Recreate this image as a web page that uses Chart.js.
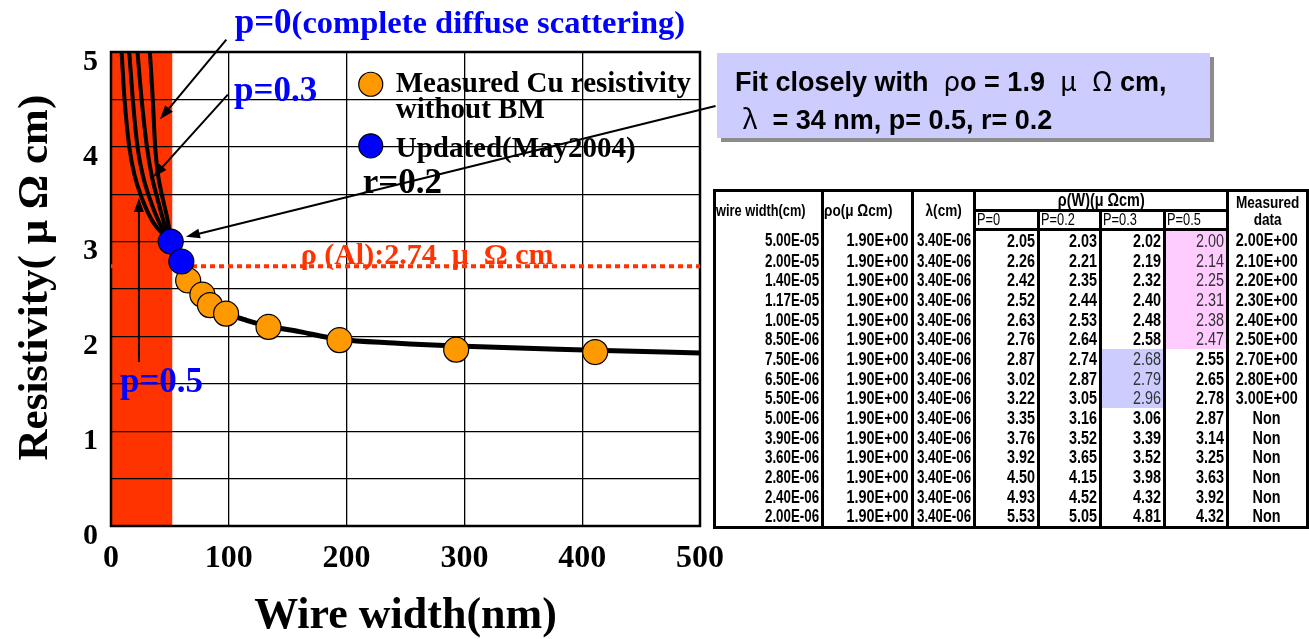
<!DOCTYPE html>
<html>
<head>
<meta charset="utf-8">
<script src="https://cdn.jsdelivr.net/npm/chart.js@4.4.0/dist/chart.umd.min.js"></script>
<style>
  body { margin: 0; background: #fff; }
  #stage { position: relative; width: 1309px; height: 639px; overflow: hidden; }
  #resist { position: absolute; left: 0; top: 0; }
  .fitbox {
    position: absolute; left: 717px; top: 53px; width: 475px; height: 76px;
    padding: 9px 0 0 18px; background: #ccccff; box-shadow: 4px 4px 0 #8c8c8c;
    font: bold 27px "Liberation Sans", Arial, sans-serif; line-height: 35px;
    white-space: pre; color: #000;
  }
  .fitbox .g { font-family: "Noto Sans CJK JP", "Liberation Sans", sans-serif; font-weight: normal; }
  table.calc {
    position: absolute; left: 713px; top: 189px; width: 593px;
    border-collapse: collapse; table-layout: fixed;
    font-family: "Liberation Sans", Arial, sans-serif;
    border: 3px solid #000;
  }
  table.calc td, table.calc th {
    border-right: 3px solid #000; padding: 0 2px 0 0; white-space: nowrap; overflow: hidden;
  }
  /* condensed look: squeeze each label sideways, anchored to its alignment edge */
  table.calc span { display: inline-block; transform: scaleX(0.8); transform-origin: 100% 50%; margin-left: -30px; }
  table.calc .l span { transform-origin: 0 50%; margin-left: 0; margin-right: -30px; }
  table.calc .c span { transform-origin: 50% 50%; margin: 0 -15px; }
  table.calc td.n span { transform: scaleX(0.74); }
  table.calc th { font-weight: bold; font-size: 16px; line-height: 15px; padding: 0; }
  table.calc tr.h1 { height: 20px; }
  table.calc tr.h2 { height: 16px; }
  table.calc tr.h2 th { border-bottom: 3px solid #000; }
  table.calc .top { border-bottom: 3px solid #000; font-size: 18px; }
  table.calc th.sub { font-weight: normal; font-size: 16px; line-height: 16px; height: 16px; text-align: left;
    padding-left: 1px; overflow: visible; vertical-align: middle; }
  table.calc td { font-weight: bold; font-size: 18px; height: 19.7px; line-height: 18px; text-align: right; }
  table.calc td.c { text-align: center; }
  table.calc td.pink { background: #ffccff; color: #333; font-weight: normal; }
  table.calc td.lav { background: #ccccff; color: #333; font-weight: normal; }
</style>
</head>
<body>
<div id="stage">
  <canvas id="resist" width="1309" height="639"></canvas>
  <div class="fitbox">Fit closely with  <span class="g">ρ</span>o = 1.9  <span class="g">μ</span>  <span class="g">Ω</span> cm,
 <span class="g">λ</span>  = 34 nm, p= 0.5, r= 0.2</div>
  <table class="calc" id="calc"></table>
</div>
<script>
// measured Cu lines (nm, μΩcm)
const measuredCu = [[65.5, 2.59], [77.6, 2.44], [84, 2.33], [97.7, 2.24], [133.7, 2.10], [194, 1.96], [293, 1.86], [411, 1.835]]
const updated2004 = [[50.7, 3.0], [59.7, 2.79]]

// model curves near the narrow end, one per specularity p
const curveP0 = [[33, 5.0], [35.5, 4.5], [37.5, 4.0], [40, 3.7], [44, 3.45], [48.5, 3.2], [51, 3.0]]
const curveP02 = [[22.5, 5.0], [26, 4.5], [30.5, 4.0], [34.5, 3.7], [39.5, 3.45], [45, 3.2], [51, 3.0]]
const curveP03 = [[15.5, 5.0], [18.5, 4.5], [22.5, 4.0], [27, 3.7], [33, 3.45], [41, 3.2], [51, 3.0]]
const curveP05 = [[9, 5.0], [11.5, 4.5], [15.5, 4.0], [20, 3.7], [26.5, 3.45], [36, 3.2], [51, 3.0]]
// shared fit from the merge point out to 500 nm
const fitTail = [[51, 3.0], [60, 2.79], [66, 2.62], [75, 2.48], [85, 2.36], [98, 2.25], [115, 2.17],
  [134, 2.11], [160, 2.05], [194, 1.97], [240, 1.93], [300, 1.895], [410, 1.855], [500, 1.825]]

const alResistivity = 2.74
const bandRange = [0, 52]
const xTicks = [0, 100, 200, 300, 400, 500]
const yTicks = [0, 1, 2, 3, 4, 5]

// table columns
const wireWidthCm = ['5.00E-05', '2.00E-05', '1.40E-05', '1.17E-05', '1.00E-05', '8.50E-06', '7.50E-06', '6.50E-06',
  '5.50E-06', '5.00E-06', '3.90E-06', '3.60E-06', '2.80E-06', '2.40E-06', '2.00E-06']
const rho0 = '1.90E+00'
const lambdaCm = '3.40E-06'
const rhoP0 = [2.05, 2.26, 2.42, 2.52, 2.63, 2.76, 2.87, 3.02, 3.22, 3.35, 3.76, 3.92, 4.50, 4.93, 5.53]
const rhoP02 = [2.03, 2.21, 2.35, 2.44, 2.53, 2.64, 2.74, 2.87, 3.05, 3.16, 3.52, 3.65, 4.15, 4.52, 5.05]
const rhoP03 = [2.02, 2.19, 2.32, 2.40, 2.48, 2.58, 2.68, 2.79, 2.96, 3.06, 3.39, 3.52, 3.98, 4.32, 4.81]
const rhoP05 = [2.00, 2.14, 2.25, 2.31, 2.38, 2.47, 2.55, 2.65, 2.78, 2.87, 3.14, 3.25, 3.63, 3.92, 4.32]
const measuredData = ['2.00E+00', '2.10E+00', '2.20E+00', '2.30E+00', '2.40E+00', '2.50E+00', '2.70E+00',
  '2.80E+00', '3.00E+00', 'Non', 'Non', 'Non', 'Non', 'Non', 'Non']


function cell(tag, text, cls, extra) {
  return '<' + tag + (cls ? ' class="' + cls + '"' : '') + (extra || '') + '><span>' + text + '</span></' + tag + '>'
}

function buildTable() {
  const colW = [108, 90, 62, 64, 62, 64, 63, 80]
  let html = '<colgroup>' + colW.map(w => '<col style="width:' + w + 'px">').join('') + '</colgroup>'
  html += '<thead><tr class="h1">'
    + cell('th', 'wire width(cm)', 'l', ' rowspan="2" style="text-align:left"')
    + cell('th', 'ρo(μ Ωcm)', 'l', ' rowspan="2" style="text-align:left;font-size:17px"')
    + cell('th', 'λ(cm)', 'c', ' rowspan="2" style="font-size:17px"')
    + cell('th', 'ρ(W)(μ Ωcm)', 'top c', ' colspan="4"')
    + cell('th', 'Measured<br>data', 'c', ' rowspan="2" style="font-size:17px;line-height:17px"')
    + '</tr><tr class="h2">'
    + cell('th', 'P=0', 'sub l') + cell('th', 'P=0.2', 'sub l') + cell('th', 'P=0.3', 'sub l') + cell('th', 'P=0.5', 'sub l')
    + '</tr></thead><tbody>'
  for (let i = 0; i < wireWidthCm.length; i++) {
    html += '<tr>' + cell('td', wireWidthCm[i], 'n') + cell('td', rho0) + cell('td', lambdaCm, 'n')
      + cell('td', rhoP0[i].toFixed(2)) + cell('td', rhoP02[i].toFixed(2))
      + cell('td', rhoP03[i].toFixed(2), i >= 6 && i <= 8 ? 'lav' : '')
      + cell('td', rhoP05[i].toFixed(2), i <= 5 ? 'pink' : '')
      + cell('td', measuredData[i], 'c') + '</tr>'
  }
  document.getElementById('calc').innerHTML = html + '</tbody>'
}
buildTable()

const pts = list => list.map(p => ({x: p[0], y: p[1]}))
const font = s => 'bold ' + s + 'px "Liberation Serif", "Times New Roman", serif'

// annotation placements, in axis units
const notes = {
  p0: {x: 105, y: 5.20},
  p03: {x: 104.4, y: 4.48},
  p05: {x: 7.6, y: 1.41},
  r02: {x: 213.7, y: 3.51},
  al: {x: 161, y: 2.76},
  yTitle: {x: -64, y: 2.62},
  legendDot: 220.5, legendText: 241.7,
  legendRows: [4.66, 4.01], legendBase: [4.58, 4.30, 3.89],
  arrows: [
    [97.9, 5.13, 41.6, 4.29],
    [99.2, 4.55, 35.9, 3.68],
    [23.7, 1.73, 23.7, 3.46],
    [513.2, 4.43, 63.6, 3.05]
  ]
}

function arrow(ctx, x1, y1, x2, y2) {
  const a = Math.atan2(y2 - y1, x2 - x1)
  const len = 14, half = 5
  ctx.beginPath()
  ctx.moveTo(x1, y1)
  ctx.lineTo(x2 - len * 0.8 * Math.cos(a), y2 - len * 0.8 * Math.sin(a))
  ctx.stroke()
  ctx.beginPath()
  ctx.moveTo(x2, y2)
  ctx.lineTo(x2 - len * Math.cos(a) + half * Math.sin(a), y2 - len * Math.sin(a) - half * Math.cos(a))
  ctx.lineTo(x2 - len * Math.cos(a) - half * Math.sin(a), y2 - len * Math.sin(a) + half * Math.cos(a))
  ctx.closePath()
  ctx.fill()
}

const decor = {
  id: 'decor',
  beforeDraw(chart) {
    const {ctx, scales: {x, y}} = chart
    ctx.save()
    // narrow-line band
    const l = x.getPixelForValue(bandRange[0]), r = x.getPixelForValue(bandRange[1])
    const t = y.getPixelForValue(5), b = y.getPixelForValue(0)
    ctx.fillStyle = '#ff3300'
    ctx.fillRect(l, t, r - l, b - t)
    // legend text sits under the grid
    ctx.fillStyle = '#000'
    ctx.font = font(29)
    ctx.textBaseline = 'alphabetic'
    const tx = x.getPixelForValue(notes.legendText)
    ctx.fillText('Measured Cu resistivity', tx, y.getPixelForValue(notes.legendBase[0]))
    ctx.fillText('without BM', tx, y.getPixelForValue(notes.legendBase[1]))
    ctx.fillText('Updated(May2004)', tx, y.getPixelForValue(notes.legendBase[2]))
    ctx.restore()
  },
  beforeDatasetsDraw(chart) {
    const {ctx, chartArea: a} = chart
    ctx.save()
    ctx.strokeStyle = '#000'
    ctx.lineWidth = 2.5
    ctx.strokeRect(a.left, a.top, a.right - a.left, a.bottom - a.top)
    ctx.restore()
  },
  afterDraw(chart) {
    const {ctx, scales: {x, y}} = chart
    const px = v => x.getPixelForValue(v), py = v => y.getPixelForValue(v)
    ctx.save()
    // y axis title
    ctx.save()
    ctx.translate(px(notes.yTitle.x), py(notes.yTitle.y))
    ctx.rotate(-Math.PI / 2)
    ctx.font = font(43)
    ctx.fillStyle = '#000'
    ctx.textAlign = 'center'
    ctx.textBaseline = 'middle'
    ctx.fillText('Resistivity( μ Ω cm)', 0, 0)
    ctx.restore()
    // legend markers
    const dotColors = ['#ff9900', '#0000ff']
    notes.legendRows.forEach((v, i) => {
      ctx.beginPath()
      ctx.arc(px(notes.legendDot), py(v), 12, 0, Math.PI * 2)
      ctx.fillStyle = dotColors[i]
      ctx.fill()
      ctx.lineWidth = 1.2
      ctx.strokeStyle = '#000'
      ctx.stroke()
    })
    // labels
    ctx.textBaseline = 'alphabetic'
    ctx.fillStyle = '#0000ff'
    ctx.font = font(35)
    ctx.fillText('p=0', px(notes.p0.x), py(notes.p0.y))
    const w = ctx.measureText('p=0').width
    ctx.font = font(32.5)
    ctx.fillText('(complete diffuse scattering)', px(notes.p0.x) + w, py(notes.p0.y))
    ctx.font = font(35)
    ctx.fillText('p=0.3', px(notes.p03.x), py(notes.p03.y))
    ctx.fillText('p=0.5', px(notes.p05.x), py(notes.p05.y))
    ctx.fillStyle = '#000'
    ctx.fillText('r=0.2', px(notes.r02.x), py(notes.r02.y))
    ctx.fillStyle = '#ff3300'
    ctx.font = font(30)
    ctx.fillText('ρ (Al):2.74  μ  Ω cm', px(notes.al.x), py(notes.al.y))
    // arrows
    ctx.strokeStyle = '#000'
    ctx.fillStyle = '#000'
    ctx.lineWidth = 2
    notes.arrows.forEach(s => arrow(ctx, px(s[0]), py(s[1]), px(s[2]), py(s[3])))
    ctx.restore()
  }
}

const curveStyle = {
  type: 'line', showLine: true, pointRadius: 0, borderColor: '#000', borderWidth: 4,
  cubicInterpolationMode: 'monotone', fill: false, order: 2
}

const ctx = document.getElementById('resist')
new Chart(ctx, {
  type: 'scatter',
  data: {
    datasets: [
      {data: pts(updated2004), pointRadius: 12.5, backgroundColor: '#0000ff', borderColor: '#000', borderWidth: 1.2, order: 0},
      {data: pts(measuredCu), pointRadius: 12.5, backgroundColor: '#ff9900', borderColor: '#000', borderWidth: 1.2, order: 1},
      Object.assign({data: pts(curveP0)}, curveStyle),
      Object.assign({data: pts(curveP02)}, curveStyle),
      Object.assign({data: pts(curveP03)}, curveStyle),
      Object.assign({data: pts(curveP05)}, curveStyle),
      Object.assign({data: pts(fitTail)}, curveStyle, {borderWidth: 5}),
      {type: 'line', data: [{x: 0, y: alResistivity}, {x: 500, y: alResistivity}], showLine: true, pointRadius: 0,
        borderColor: '#ff3300', borderWidth: 4, borderDash: [5, 4], order: 3}
    ]
  },
  options: {
    responsive: false,
    animation: false,
    events: [],
    layout: {padding: {top: 52, right: 609, left: 0, bottom: 0}},
    plugins: {legend: {display: false}, tooltip: {enabled: false}},
    scales: {
      x: {
        type: 'linear', min: 0, max: 500,
        afterFit: s => { s.height = 113 },
        afterBuildTicks: s => { s.ticks = xTicks.map(v => ({value: v})) },
        grid: {color: '#000', lineWidth: 1.3, drawTicks: false},
        border: {display: false},
        ticks: {color: '#000', font: {family: '"Liberation Serif", serif', size: 32, weight: 'bold'}, padding: 14, maxRotation: 0},
        title: {display: true, text: 'Wire width(nm)', color: '#000', padding: 0,
          font: {family: '"Liberation Serif", serif', size: 44, weight: 'bold', lineHeight: 1}}
      },
      y: {
        type: 'linear', min: 0, max: 5,
        afterFit: s => { s.width = 111 },
        ticks: {
          stepSize: 0.5, color: '#000', padding: 13, labelOffset: 10,
          font: {family: '"Liberation Serif", serif', size: 30, weight: 'bold'},
          callback: v => yTicks.includes(v) ? v : ''
        },
        grid: {color: '#000', lineWidth: 1.3, drawTicks: false},
        border: {display: false}
      }
    }
  },
  plugins: [decor]
})
</script>
</body>
</html>
